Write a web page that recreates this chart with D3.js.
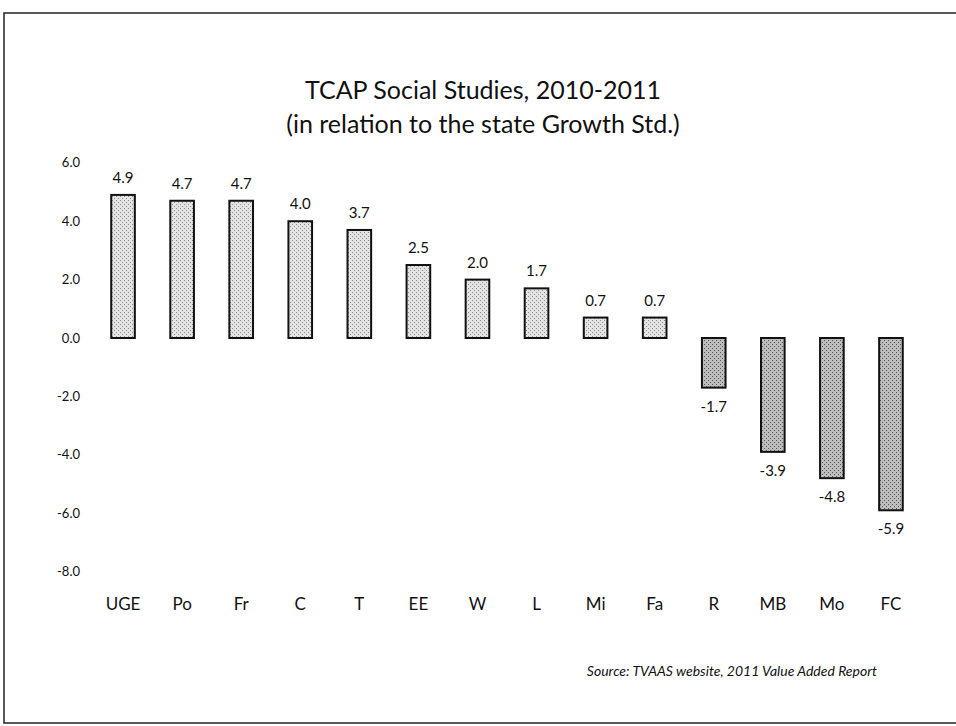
<!DOCTYPE html>
<html>
<head>
<meta charset="utf-8">
<script src="https://cdn.jsdelivr.net/npm/d3@7"></script>
<style>
  body { margin: 0; background: #fff; }
  svg { display: block; }
  text { font-family: Lato, "Open Sans", sans-serif; fill: #111; }
</style>
</head>
<body>
<div id="chart"></div>
<script>
(function () {
    // --- datos ---
    const schools = ["UGE", "Po", "Fr", "C", "T", "EE", "W", "L", "Mi", "Fa", "R", "MB", "Mo", "FC"];
    const growth = [4.9, 4.7, 4.7, 4.0, 3.7, 2.5, 2.0, 1.7, 0.7, 0.7, -1.7, -3.9, -4.8, -5.9];
    const yTicks = [6, 4, 2, 0, -2, -4, -6, -8];

    const width = 956, height = 726;
    // formato con guion normal, como en el original
    const fmt = v => d3.format(".1f")(v).replace("\u2212", "-");

    const svg = d3.select("#chart").append("svg")
        .attr("width", width)
        .attr("height", height);

    // patrones punteados (escaneo)
    const defs = svg.append("defs");
    function stipple(id, bg, dot) {
        const p = defs.append("pattern")
            .attr("id", id)
            .attr("patternUnits", "userSpaceOnUse")
            .attr("width", 4).attr("height", 4);
        p.append("rect").attr("width", 4).attr("height", 4).attr("fill", bg);
        p.append("rect").attr("x", 0).attr("y", 0).attr("width", 1).attr("height", 1).attr("fill", dot);
        p.append("rect").attr("x", 2).attr("y", 2).attr("width", 1).attr("height", 1).attr("fill", dot);
    }
    stipple("dotsLight", "#e4e4e4", "#8a8a8a");
    stipple("dotsDark", "#bdbdbd", "#555");

    // marco
    svg.append("rect")
        .attr("x", 4).attr("y", 13)
        .attr("width", 960).attr("height", 710)
        .attr("fill", "none")
        .attr("stroke", "#222")
        .attr("stroke-width", 1.5);

    // títulos
    svg.append("text")
        .attr("x", 483).attr("y", 99)
        .attr("text-anchor", "middle")
        .style("font-size", "25px")
        .text("TCAP Social Studies, 2010-2011");
    svg.append("text")
        .attr("x", 483).attr("y", 133)
        .attr("text-anchor", "middle")
        .style("font-size", "25px")
        .text("(in relation to the state Growth Std.)");

    // escalas
    const x = d3.scaleBand()
        .domain(schools)
        .range([93.5, 920.5])
        .paddingInner(0.6)
        .paddingOuter(0.3);

    const y = d3.scaleLinear()
        .domain([-8, 6])
        .range([338 + 8 * 29.2, 338 - 6 * 29.2]);

    // eje Y (solo etiquetas)
    const yAxis = svg.append("g")
        .attr("transform", "translate(80,0)")
        .call(d3.axisLeft(y).tickValues(yTicks).tickFormat(fmt).tickSize(0).tickPadding(0));
    yAxis.select(".domain").remove();
    yAxis.selectAll("text")
        .style("font-size", "13px")
        .style("font-family", "Lato, 'Open Sans', sans-serif")
        .attr("fill", "#333");

    const data = schools.map((s, i) => ({ name: s, value: growth[i] }));

    // barras
    svg.append("g").selectAll("rect")
        .data(data)
        .join("rect")
        .attr("x", d => x(d.name))
        .attr("width", x.bandwidth())
        .attr("y", d => y(Math.max(0, d.value)))
        .attr("height", d => Math.abs(y(d.value) - y(0)))
        .attr("fill", d => d.value >= 0 ? "url(#dotsLight)" : "url(#dotsDark)")
        .attr("stroke", "#111")
        .attr("stroke-width", 2);

    // etiquetas de valor
    svg.append("g").selectAll("text")
        .data(data)
        .join("text")
        .attr("x", d => x(d.name) + x.bandwidth() / 2)
        .attr("y", d => d.value >= 0 ? y(d.value) - 12 : y(d.value) + 24)
        .attr("text-anchor", "middle")
        .style("font-size", "15px")
        .text(d => fmt(d.value));

    // etiquetas de categoría
    const xAxis = svg.append("g")
        .attr("transform", "translate(0,605)")
        .call(d3.axisBottom(x).tickSize(0).tickPadding(0));
    xAxis.select(".domain").remove();
    xAxis.selectAll("text")
        .style("font-size", "17px")
        .style("font-family", "Lato, 'Open Sans', sans-serif")
        .attr("fill", "#222")
        .attr("dy", "0.32em");

    // fuente
    svg.append("text")
        .attr("x", 877).attr("y", 676)
        .attr("text-anchor", "end")
        .style("font-size", "14px")
        .style("font-style", "italic")
        .text("Source: TVAAS website, 2011 Value Added Report");
})();
</script>
</body>
</html>
